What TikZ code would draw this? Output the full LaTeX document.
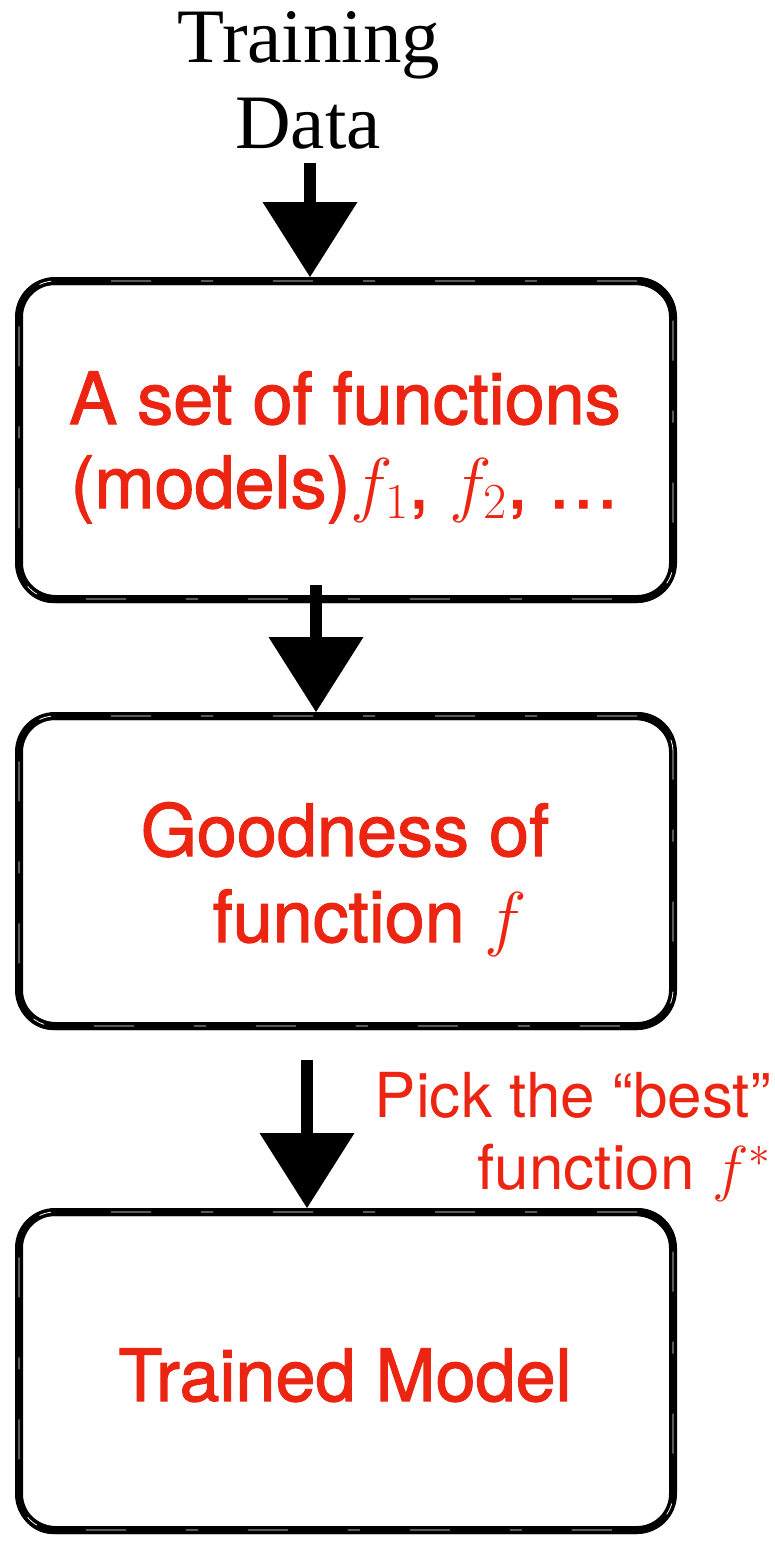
\RequirePackage{fix-cm}
\documentclass[tikz,border=0pt]{standalone}
\usepackage{fontspec}
\newfontfamily\timesf{Liberation Serif}
\newfontfamily\helv{TeX Gyre Heros}
\newfontfamily\helvm[FakeBold=1.6]{TeX Gyre Heros}
\usetikzlibrary{arrows.meta}
\definecolor{hred}{RGB}{236,36,18}
\begin{document}
\begin{tikzpicture}[x=1pt,y=-1pt,
  box/.style={draw=black, line width=8pt, rounded corners=36pt, minimum width=654pt, inner sep=0pt,
    postaction={draw, line width=1.4pt, transform canvas={shift={(1.5pt,3pt)}}},
    postaction={draw, line width=1.2pt, transform canvas={shift={(-1.5pt,-3.5pt)}}},
    postaction={draw=white, line width=0.8pt, dash pattern=on 40pt off 60pt on 12pt off 50pt}},
  boxtxt/.style={font=\helvm\fontsize{72}{86}\selectfont, text=hred, inner sep=0pt},
  picktxt/.style={font=\helv\fontsize{62}{72}\selectfont, text=hred, inner sep=0pt},
  titletxt/.style={font=\timesf\fontsize{77}{86}\selectfont, inner sep=0pt},
  arr/.style={line width=12pt, -{Triangle[length=75pt,width=95pt,line width=0pt 0]}}
]
\useasboundingbox (0,0) rectangle (775,1542);

% title
\node[titletxt, anchor=base] (tr) at (309,62) {Training};
\node[titletxt, anchor=base] (da) at (308,148) {Data};

% boxes
\node[box, minimum height=318pt] (b1) at (346,440) {};
\node[box, minimum height=310pt] (b2) at (346,871) {};
\node[box, minimum height=318pt] (b3) at (346,1371) {};

% box texts
\node[boxtxt, anchor=base] (t1a) at (345,424) {A set of functions};
\node[boxtxt, anchor=base] (t1b) at (345,508) {(models)$f_1$, $f_2$, …};
\node[boxtxt, anchor=base] (t2a) at (345,856) {Goodness of};
\node[boxtxt, anchor=base] (t2b) at (370,942) {function $f$};
\node[boxtxt, anchor=base] (t3) at (345,1401) {Trained Model};

% pick label
\node[picktxt, align=right, anchor=north east] (p1) at (771,1072) {Pick the “best”\\function $f^{*}$};

% arrows
\coordinate (a1s) at (310,163);
\coordinate (a2s) at (316,585);
\coordinate (a3s) at (307,1060);
\draw[arr] (a1s) -- (a1s |- b1.north);
\draw[arr] (a2s) -- (a2s |- b2.north);
\draw[arr] (a3s) -- (a3s |- b3.north);
\end{tikzpicture}
\end{document}
